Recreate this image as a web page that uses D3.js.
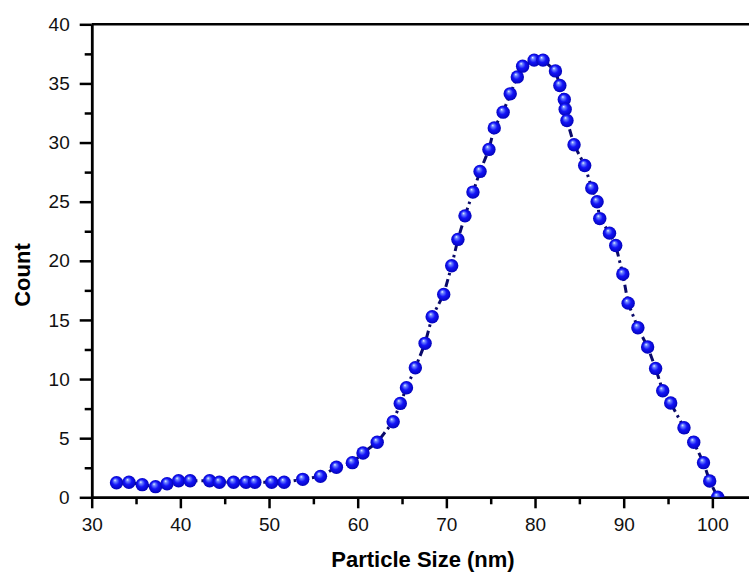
<!doctype html>
<html lang="en">
<head>
  <meta charset="utf-8">
  <title>Particle size distribution</title>
  <style>
  body{
    margin: 0;
    background: #ffffff;
  }
  .axis text{
    font-family: "Liberation Sans", Arial, sans-serif;
    font-size: 19px;
    fill: #111;
  }
  .axis path, .axis line{
    stroke: #000;
    stroke-width: 2.5px;
  }
  .title{
    font-family: "Liberation Sans", Arial, sans-serif;
    font-weight: bold;
    font-size: 22px;
    fill: #000;
  }
  </style>
  <script src="https://d3js.org/d3.v7.min.js"></script>
</head>
<body>
<div id="chart"></div>
<script>
  // particle size (nm)
  var sizes = [32.8, 34.2, 35.7, 37.2, 38.5, 39.8, 41.1, 43.3, 44.4, 46.0,
               47.4, 48.4, 50.3, 51.7, 53.8, 55.8, 57.6, 59.4, 60.6, 62.2,
               64.0, 64.8, 65.5, 66.5, 67.6, 68.4, 69.7, 70.6, 71.3, 72.1,
               73.0, 73.8, 74.8, 75.4, 76.4, 77.2, 78.0, 78.6, 79.9, 80.9,
               82.3, 82.8, 83.3, 83.4, 83.6, 84.4, 85.6, 86.4, 87.0, 87.3,
               88.4, 89.1, 89.9, 90.5, 91.6, 92.7, 93.6, 94.4, 95.3, 96.8,
               97.9, 99.0, 99.7, 100.6];
  // counts for each size
  var counts = [1.23, 1.27, 1.07, 0.90, 1.15, 1.40, 1.40, 1.40, 1.27, 1.27,
                1.27, 1.27, 1.27, 1.27, 1.52, 1.77, 2.54, 2.93, 3.75, 4.65,
                6.39, 7.94, 9.26, 10.96, 13.02, 15.27, 17.16, 19.58, 21.81, 23.80,
                25.81, 27.56, 29.42, 31.24, 32.57, 34.12, 35.55, 36.46, 36.97, 36.97,
                36.06, 34.83, 33.64, 32.82, 31.87, 29.81, 28.06, 26.15, 24.99, 23.57,
                22.34, 21.30, 18.88, 16.42, 14.34, 12.71, 10.90, 9.01, 7.97, 5.88,
                4.65, 2.93, 1.38, 0.0];
  var xMajor = [30, 40, 50, 60, 70, 80, 90, 100];
  var xMinor = [35, 45, 55, 65, 75, 85, 95, 105];
  var yMajor = [0, 5, 10, 15, 20, 25, 30, 35, 40];
  var yMinor = [2.5, 7.5, 12.5, 17.5, 22.5, 27.5, 32.5, 37.5];

  var data = sizes.map(function(s, i) { return {size: s, count: counts[i]}; });

  // plot area runs past the right edge of the picture (cropped frame)
  var margin = {top: 24.3, left: 91.7},
      width = 665,
      height = 473;

  var svg = d3.select('#chart').append('svg')
    .attr('width', 749)
    .attr('height', 574);

  var defs = svg.append('defs');
  var grad = defs.append('radialGradient')
    .attr('id', 'ball')
    .attr('cx', '50%').attr('cy', '50%').attr('r', '55%')
    .attr('fx', '38%').attr('fy', '30%');
  grad.append('stop').attr('offset', '0%').attr('stop-color', '#eef3ff');
  grad.append('stop').attr('offset', '18%').attr('stop-color', '#7088ff');
  grad.append('stop').attr('offset', '50%').attr('stop-color', '#1414f8');
  grad.append('stop').attr('offset', '100%').attr('stop-color', '#0000b0');

  defs.append('clipPath').attr('id', 'plotclip')
    .append('rect')
    .attr('x', 0).attr('y', 0)
    .attr('width', width).attr('height', height);

  var g = svg.append('g')
    .attr('transform', 'translate(' + margin.left + ',' + margin.top + ')');

  var x = d3.scaleLinear().domain([30, 105]).range([0, width]);
  var y = d3.scaleLinear().domain([0, 40]).range([height, 0]);

  // minor ticks
  g.append('g')
    .attr('class', 'axis')
    .attr('transform', 'translate(0,' + height + ')')
    .call(d3.axisBottom(x).tickValues(xMinor).tickSize(7).tickSizeOuter(0).tickFormat(''));

  g.append('g')
    .attr('class', 'axis')
    .call(d3.axisLeft(y).tickValues(yMinor).tickSize(7).tickSizeOuter(0).tickFormat(''));

  // major ticks
  g.append('g')
    .attr('class', 'axis')
    .attr('transform', 'translate(0,' + height + ')')
    .call(d3.axisBottom(x).tickValues(xMajor).tickSize(11).tickSizeOuter(0).tickPadding(9)
      .tickFormat(d3.format('d')));

  g.append('g')
    .attr('class', 'axis')
    .call(d3.axisLeft(y).tickValues(yMajor).tickSize(12).tickSizeOuter(0).tickPadding(10)
      .tickFormat(d3.format('d')));

  // top frame line
  g.append('line')
    .attr('x1', 0).attr('x2', width)
    .attr('y1', 0).attr('y2', 0)
    .style('stroke', '#000')
    .style('stroke-width', 2.5);

  var plot = g.append('g').attr('clip-path', 'url(#plotclip)');

  var line = d3.line()
    .x(function(d) { return x(d.size); })
    .y(function(d) { return y(d.count); });

  plot.append('path')
    .datum(data)
    .attr('d', line)
    .style('fill', 'none')
    .style('stroke', '#0a0a6a')
    .style('stroke-width', 3)
    .style('stroke-dasharray', '8,4,2.5,4');

  plot.selectAll('.pt')
    .data(data)
    .enter().append('circle')
    .attr('class', 'pt')
    .attr('cx', function(d) { return x(d.size); })
    .attr('cy', function(d) { return y(d.count); })
    .attr('r', 6.7)
    .style('fill', 'url(#ball)');

  // axis titles
  svg.append('text')
    .attr('class', 'title')
    .attr('x', 423)
    .attr('y', 567)
    .style('text-anchor', 'middle')
    .text('Particle Size (nm)');

  svg.append('text')
    .attr('class', 'title')
    .attr('transform', 'translate(30,275) rotate(-90)')
    .style('text-anchor', 'middle')
    .text('Count');
</script>
</body>
</html>
